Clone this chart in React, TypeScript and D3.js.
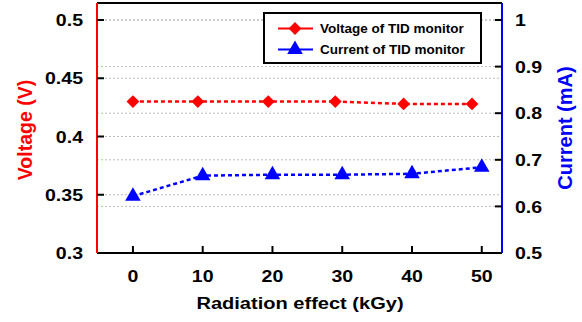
import React from 'react';
import * as d3 from 'd3';

// radiation dose (kGy)
const doses = [0, 10, 20, 30, 40, 50];
// voltage markers sit slightly left of the ticks in the original
const voltageX = [0, 9.3, 19.4, 29.0, 38.8, 48.6];
const voltage = [0.43, 0.43, 0.43, 0.43, 0.428, 0.428];
const current = [0.622, 0.666, 0.668, 0.668, 0.67, 0.684];

const xTicks = [0, 10, 20, 30, 40, 50];
const vTicks = [0.3, 0.35, 0.4, 0.45, 0.5];
const vTickLabels = ['0.3', '0.35', '0.4', '0.45', '0.5'];
const iTicks = [0.5, 0.6, 0.7, 0.8, 0.9, 1];
const iTickLabels = ['0.5', '0.6', '0.7', '0.8', '0.9', '1'];

const W = 582;
const H = 322;
const margin = { top: 3, right: 80, bottom: 69, left: 97 };
const FONT = 'Arial, "Liberation Sans", sans-serif';

// the source image is a bit stretched horizontally, so text is too
function WideText(props: { x: number; y: number; sx?: number; anchor?: string; size: number; fill?: string; dy?: string; children: React.ReactNode }) {
  const { x, y, sx = 1.15, anchor = 'start', size, fill = '#000', dy, children } = props;
  return (
    <text transform={`translate(${x},${y}) scale(${sx},1)`} textAnchor={anchor} fontSize={size} fill={fill} dy={dy}>
      {children}
    </text>
  );
}

export default function App() {
  const innerW = W - margin.left - margin.right;
  const innerH = H - margin.top - margin.bottom;

  const x = d3.scaleLinear().domain([-5.15, 52.9]).range([0, innerW]);
  const yV = d3.scaleLinear().domain([0.3, 0.5146]).range([innerH, 0]);
  const yI = d3.scaleLinear().domain([0.5, 1.0365]).range([innerH, 0]);

  const vPts = voltage.map((v, i) => [x(voltageX[i]), yV(v)] as [number, number]);
  const iPts = current.map((v, i) => [x(doses[i]), yI(v)] as [number, number]);
  const line = d3.line();

  // square turned 45deg -> wide diamond like the original
  const diamond = d3.symbol().type(d3.symbolSquare).size(82)();
  const triangle = d3.symbol().type(d3.symbolTriangle).size(105)();

  return (
    <svg width={W} height={H} style={{ position: 'absolute', left: 0, top: 0, background: '#fff' }}>
      <g transform={`translate(${margin.left},${margin.top})`} fontFamily={FONT} fontWeight="bold">
        {/* grid for both axes */}
        {vTicks.slice(1).map((t) => (
          <line key={'gv' + t} x1={0} x2={innerW} y1={yV(t)} y2={yV(t)} stroke="#bbb" strokeDasharray="2,2" strokeWidth={1} />
        ))}
        {iTicks.slice(1).map((t) => (
          <line key={'gi' + t} x1={0} x2={innerW} y1={yI(t)} y2={yI(t)} stroke="#bbb" strokeDasharray="2,2" strokeWidth={1} />
        ))}

        {/* frame */}
        <line x1={0} x2={innerW} y1={0} y2={0} stroke="#000" strokeWidth={2} />
        <line x1={0} x2={innerW} y1={innerH} y2={innerH} stroke="#000" strokeWidth={2} />
        <line x1={0} x2={0} y1={0} y2={innerH} stroke="#f00" strokeWidth={2} />
        <line x1={innerW} x2={innerW} y1={0} y2={innerH} stroke="#00f" strokeWidth={2} />

        {/* x ticks */}
        {xTicks.map((t) => (
          <g key={'x' + t}>
            <line x1={x(t)} x2={x(t)} y1={innerH} y2={innerH - 7} stroke="#000" strokeWidth={2} />
            <WideText x={x(t)} y={innerH + 28.5} anchor="middle" size={17}>{t}</WideText>
          </g>
        ))}

        {/* left ticks */}
        {vTicks.map((t, i) => (
          <g key={'v' + t}>
            {i > 0 && <line x1={0} x2={7} y1={yV(t)} y2={yV(t)} stroke="#000" strokeWidth={2} />}
            <WideText x={-14} y={yV(t)} dy="0.36em" anchor="end" size={17}>{vTickLabels[i]}</WideText>
          </g>
        ))}

        {/* right ticks */}
        {iTicks.map((t, i) => (
          <g key={'i' + t}>
            {i > 0 && <line x1={innerW} x2={innerW - 7} y1={yI(t)} y2={yI(t)} stroke="#000" strokeWidth={2} />}
            <WideText x={innerW + 13} y={yI(t)} dy="0.36em" size={17}>{iTickLabels[i]}</WideText>
          </g>
        ))}

        {/* series */}
        <path d={line(vPts) || ''} fill="none" stroke="#f00" strokeWidth={2.5} strokeDasharray="4,3" />
        {vPts.map((p, i) => (
          <path key={'dv' + i} d={diamond || ''} transform={`translate(${p[0]},${p[1]}) rotate(45)`} fill="#f00" />
        ))}
        <path d={line(iPts) || ''} fill="none" stroke="#00f" strokeWidth={2.5} strokeDasharray="4,3" />
        {iPts.map((p, i) => (
          <path key={'ti' + i} d={triangle || ''} transform={`translate(${p[0]},${p[1]})`} fill="#00f" />
        ))}

        {/* legend */}
        <g transform="translate(167,10)">
          <rect x={0} y={0} width={217} height={50} fill="#fff" stroke="#000" strokeWidth={2} />
          <line x1={14} x2={49} y1={15.5} y2={15.5} stroke="#f00" strokeWidth={2} />
          <path d={diamond || ''} transform="translate(31,15.5) rotate(45)" fill="#f00" />
          <WideText x={56} y={15.5} dy="0.36em" sx={1.08} size={12.5}>Voltage of TID monitor</WideText>
          <line x1={14} x2={49} y1={36.5} y2={36.5} stroke="#00f" strokeWidth={2} />
          <path d={triangle || ''} transform="translate(31,36.5)" fill="#00f" />
          <WideText x={56} y={36.5} dy="0.36em" sx={1.08} size={12.5}>Current of TID monitor</WideText>
        </g>

        {/* axis titles */}
        <WideText x={innerW / 2 + 0.5} y={innerH + 56} anchor="middle" sx={1.18} size={17}>Radiation effect (kGy)</WideText>
        <text transform={`translate(${32 - margin.left},${130 - margin.top}) rotate(-90)`} textAnchor="middle" fontSize={19.5} fill="#f00">Voltage (V)</text>
        <text transform={`translate(${572 - margin.left},${128 - margin.top}) rotate(-90)`} textAnchor="middle" fontSize={20} fill="#00f">Current (mA)</text>
      </g>
    </svg>
  );
}
